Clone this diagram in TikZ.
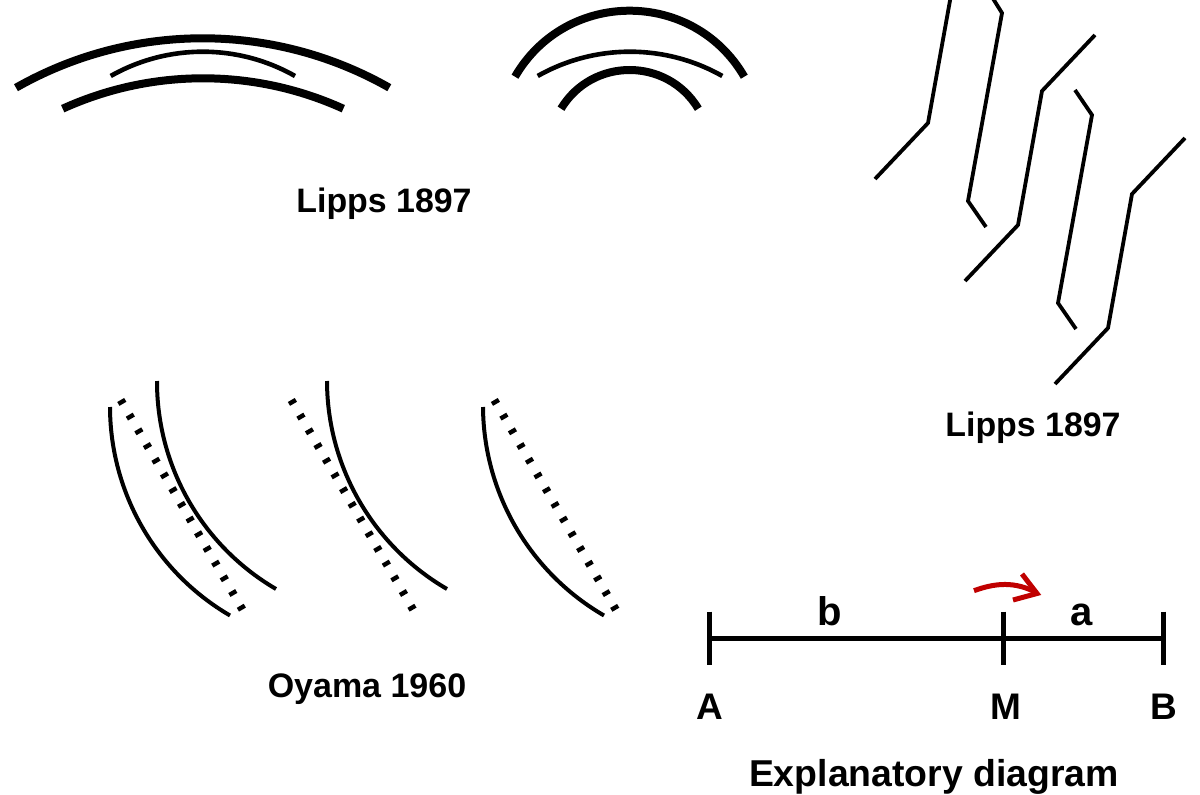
\documentclass[tikz,border=0pt]{standalone}
\usepackage{fontspec}
\setmainfont{Liberation Sans}
\newcommand{\lblfont}[1]{\fontsize{#1}{#1}\selectfont\bfseries}
% circular arc P0 -> P1 with sag s
\newcommand{\sagarc}[6][]{%
  \pgfmathsetmacro{\dxv}{#4-#2}\pgfmathsetmacro{\dyv}{#5-#3}%
  \pgfmathsetmacro{\tv}{2*abs(#6)/veclen(\dxv,\dyv)}%
  \pgfmathsetmacro{\sgn}{#6<0 ? -1 : 1}%
  \pgfmathsetmacro{\thv}{2*atan(\tv)}%
  \pgfmathsetmacro{\kv}{(4/3)*\tv*(veclen(\dxv,\dyv)/2)/sin(\thv)}%
  \pgfmathsetmacro{\ca}{\kv*cos(\thv)/veclen(\dxv,\dyv)}%
  \pgfmathsetmacro{\cb}{\sgn*\kv*sin(\thv)/veclen(\dxv,\dyv)}%
  \draw[#1] (#2,#3) .. controls ({#2+\ca*\dxv+\cb*\dyv},{#3+\ca*\dyv-\cb*\dxv}) and ({#4-\ca*\dxv+\cb*\dyv},{#5-\ca*\dyv-\cb*\dxv}) .. (#4,#5);}
\tikzset{
  thickarc/.style={line width=8pt,black},
  thinarc/.style={line width=4.6pt,black},
  curve/.style={line width=4pt,black},
  dots/.style={line width=8pt,black,dash pattern=on 4.4pt off 12.6pt},
  zig/.style={line width=3.8pt,black,line join=miter},
  bar/.style={line width=5pt,black},
  lbl/.style={inner sep=0pt,anchor=base,text=black},
}
\begin{document}
\begin{tikzpicture}[x=1pt,y=-1pt]
\useasboundingbox (0,0) rectangle (1200,795);
% top left
\sagarc[thickarc]{16}{87.7}{389.3}{87.7}{49.4}
\sagarc[thinarc]{110.7}{76}{295}{76}{24.3}
\sagarc[thickarc]{62.7}{108.7}{343.3}{108.7}{30.4}
% top middle
\sagarc[thickarc]{515}{76.7}{744.3}{76.7}{66}
\sagarc[thinarc]{537.7}{76}{722.3}{76}{24.3}
\sagarc[thickarc]{561}{108.7}{698.3}{108.7}{38.7}
\node[lbl,font=\lblfont{33.9pt}] (t1) at (384,212) {Lipps 1897};
% zigzags
\draw[zig] (875,179) -- (928,123) -- (951,-5);
\draw[zig] (992,-3) -- (1002,13) -- (968,201) -- (986,227);
\draw[zig] (1095,35) -- (1042,91) -- (1018,225) -- (965,281);
\draw[zig] (1075,90) -- (1092,115) -- (1058,303) -- (1076,329);
\draw[zig] (1185,138) -- (1132,194) -- (1108,328) -- (1055,384);
\node[lbl,font=\lblfont{33.9pt}] (t2) at (1033,436) {Lipps 1897};
% Oyama
\sagarc[curve]{157}{381}{276}{589}{-32}
\sagarc[curve]{110}{407}{230}{615.5}{-32}
\sagarc[curve]{327}{381}{447}{589}{-32}
\sagarc[curve]{483}{407}{604}{615.5}{-32}
\draw[dots] (120.7,400) -- (242.7,610);
\draw[dots] (291.3,400) -- (413.3,610);
\draw[dots] (494.3,400) -- (616,610);
\node[lbl,font=\lblfont{34pt}] (t3) at (367,697) {Oyama 1960};
% explanatory
\coordinate (A) at (709,638.3);
\coordinate (M) at (1003,638.3);
\coordinate (B) at (1163.5,638.3);
\draw[bar] (A) -- (B);
\draw[bar] (709,611.7) -- (709,665);
\draw[bar] (1003,611.7) -- (1003,665);
\draw[bar] (1163.5,611.7) -- (1163.5,665);
\draw[line width=5pt,color={rgb,255:red,192;green,0;blue,0}] (974,590.7) .. controls (995,583) and (1015,581) .. (1037,593);
\draw[line width=5pt,color={rgb,255:red,192;green,0;blue,0},line join=miter] (1022,574) -- (1037,593.5) -- (1013,600);
\node[lbl,font=\lblfont{40pt}] (lb) at (830,625) {b};
\node[lbl,font=\lblfont{40pt}] (la) at (1081.5,625) {a};
\node[lbl,font=\lblfont{37pt}] (lA) at (709.5,719) {A};
\node[lbl,font=\lblfont{37pt}] (lM) at (1006,719) {M};
\node[lbl,font=\lblfont{37pt}] (lB) at (1164,719) {B};
\node[lbl,font=\lblfont{37.4pt}] (t4) at (934,786) {Explanatory diagram};
\end{tikzpicture}
\end{document}
